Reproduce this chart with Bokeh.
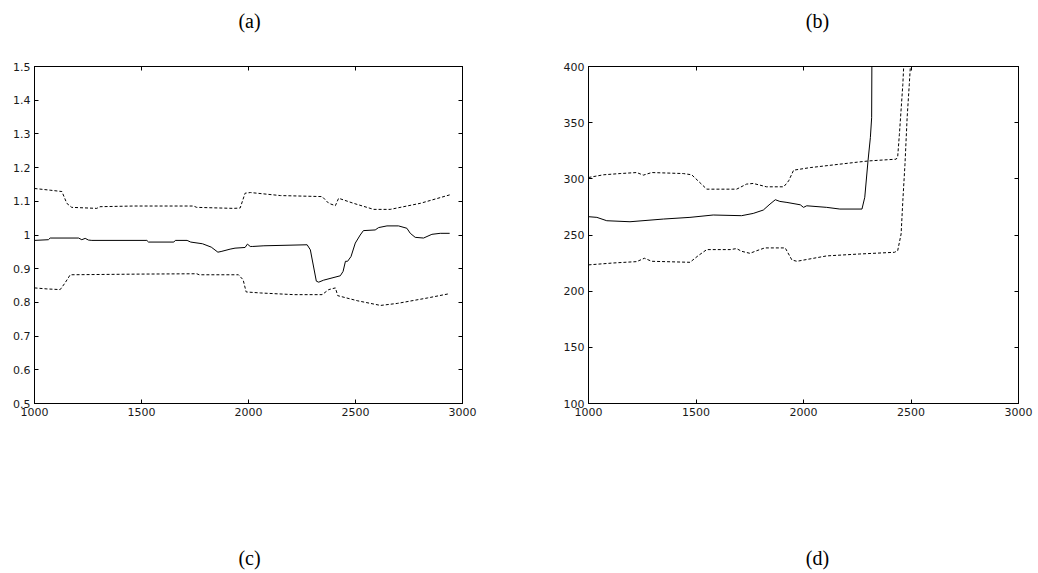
from bokeh.plotting import figure
from bokeh.layouts import row, column
from bokeh.models import LinearAxis, FixedTicker, CustomJSTickFormatter
from bokeh.core.properties import value
from bokeh.embed import file_html
from bokeh.resources import INLINE

# ---- panel (a) data ----
a_x_upper = [1000, 1073, 1128, 1151, 1174, 1291, 1306, 1462, 1743, 1758, 1930, 1961, 1984, 2009,
             2149, 2344, 2375, 2406, 2421, 2491, 2585, 2662, 2803, 2940]
a_upper = [1.138, 1.133, 1.129, 1.094, 1.082, 1.079, 1.084, 1.086, 1.086, 1.082, 1.079, 1.080, 1.124, 1.126,
           1.117, 1.114, 1.094, 1.087, 1.109, 1.094, 1.076, 1.076, 1.094, 1.119]

a_x_mid = [1000, 1065, 1073, 1206, 1221, 1237, 1252, 1268, 1525, 1533, 1651, 1658, 1713, 1730,
           1785, 1826, 1857, 1872, 1914, 1937, 1984, 1995, 2008, 2020, 2072, 2274, 2289, 2317,
           2328, 2351, 2429, 2442, 2453, 2463, 2479, 2499, 2522, 2537, 2592, 2608, 2647, 2701,
           2740, 2756, 2779, 2818, 2857, 2896, 2940]
a_mid = [0.984, 0.986, 0.991, 0.991, 0.986, 0.990, 0.985, 0.984, 0.984, 0.979, 0.979, 0.984, 0.984, 0.979,
         0.974, 0.964, 0.949, 0.951, 0.958, 0.961, 0.963, 0.973, 0.966, 0.966, 0.968, 0.971, 0.956, 0.863,
         0.860, 0.866, 0.879, 0.892, 0.922, 0.922, 0.936, 0.976, 1.000, 1.013, 1.015, 1.022, 1.027, 1.027,
         1.020, 1.005, 0.993, 0.991, 1.002, 1.005, 1.005]

a_x_lower = [1000, 1058, 1120, 1143, 1167, 1494, 1758, 1770, 1953, 1975, 1989, 2056, 2212, 2344,
             2375, 2406, 2417, 2508, 2617, 2695, 2835, 2940]
a_lower = [0.843, 0.840, 0.838, 0.858, 0.882, 0.884, 0.885, 0.882, 0.882, 0.867, 0.831, 0.828, 0.823, 0.823,
           0.838, 0.843, 0.820, 0.805, 0.791, 0.797, 0.813, 0.826]

# ---- panel (b) data ----
b_x_upper = [1000, 1070, 1147, 1224, 1255, 1294, 1441, 1480, 1550, 1689, 1735, 1766, 1828, 1908,
             1931, 1954, 2031, 2262, 2308, 2431, 2438, 2446, 2462, 2466]
b_upper = [301.2, 303.6, 304.7, 305.6, 303.3, 305.6, 304.7, 303.6, 290.8, 290.8, 295.3, 295.9, 292.9, 292.9,
           298.2, 307.7, 310.0, 315.1, 316.0, 317.5, 319.5, 339.6, 384.0, 400.0]

b_x_mid = [1000, 1039, 1085, 1193, 1348, 1472, 1580, 1712, 1766, 1813, 1844, 1869, 1890, 1923,
           1985, 2000, 2015, 2108, 2169, 2272, 2285, 2300, 2311, 2317, 2318]
b_mid = [266.3, 265.7, 262.7, 261.8, 264.2, 265.7, 267.8, 267.2, 269.2, 272.2, 277.5, 281.4, 279.9, 279.0,
         276.9, 274.6, 276.0, 274.6, 273.1, 273.1, 283.6, 316.0, 336.7, 354.4, 400.0]

b_x_lower = [1000, 1116, 1224, 1260, 1294, 1472, 1511, 1550, 1659, 1689, 1712, 1751, 1782, 1820,
             1915, 1946, 1969, 2108, 2262, 2423, 2438, 2454, 2462, 2472, 2482, 2492, 2497]
b_lower = [223.4, 225.1, 226.3, 229.3, 226.6, 225.7, 231.7, 237.0, 237.0, 237.9, 235.5, 233.7, 236.0, 238.5,
           238.5, 227.8, 226.6, 231.4, 233.1, 234.6, 236.0, 250.9, 280.5, 313.0, 354.4, 384.0, 400.0]

# ---- ticks ----
x_ticks = [1000, 1500, 2000, 2500, 3000]
x_tick_labels = ["1000", "1500", "2000", "2500", "3000"]
a_y_ticks = [0.5, 0.6, 0.7, 0.8, 0.9, 1.0, 1.1, 1.2, 1.3, 1.4, 1.5]
a_y_tick_labels = ["0.5", "0.6", "0.7", "0.8", "0.9", "1", "1.1", "1.2", "1.3", "1.4", "1.5"]
b_y_ticks = [100, 150, 200, 250, 300, 350, 400]
b_y_tick_labels = ["100", "150", "200", "250", "300", "350", "400"]

top_labels = ["(a)", "(b)"]
bottom_labels = ["(c)", "(d)"]

TICK_FONT = "DejaVu Sans"
LABEL_FONT = "Liberation Serif"


def style_axis(ax, ticks, labels, show_labels=True):
    ax.ticker = FixedTicker(ticks=ticks, minor_ticks=[])
    ax.axis_line_color = "black"
    ax.axis_line_width = 1
    ax.major_tick_line_color = "black"
    ax.major_tick_in = 4
    ax.major_tick_out = 0
    ax.minor_tick_line_color = None
    ax.major_label_text_font = TICK_FONT
    ax.major_label_text_font_size = "11px"
    ax.major_label_text_color = "#1a1a1a"
    ax.major_label_standoff = 4
    if show_labels:
        ax.major_label_overrides = {t: l for t, l in zip(ticks, labels)}
    else:
        ax.formatter = CustomJSTickFormatter(code="return ''")


def make_panel(xr, yr, yticks, ylabels, bl, br, bt, bb, h):
    p = figure(width=519, height=h, x_range=xr, y_range=yr,
               output_backend="svg", toolbar_location=None,
               min_border_left=bl, min_border_right=br,
               min_border_top=bt, min_border_bottom=bb)
    p.xgrid.visible = False
    p.ygrid.visible = False
    p.outline_line_color = "black"
    p.background_fill_color = "white"
    p.border_fill_color = "white"
    style_axis(p.xaxis[0], x_ticks, x_tick_labels)
    style_axis(p.yaxis[0], yticks, ylabels)
    top = LinearAxis()
    style_axis(top, x_ticks, x_tick_labels, show_labels=False)
    p.add_layout(top, "above")
    right = LinearAxis()
    style_axis(right, yticks, ylabels, show_labels=False)
    p.add_layout(right, "right")
    return p


def label_strip(labels, h, ypos):
    # full-width strip; x in page pixels, y in strip pixels from bottom
    s = figure(width=1038, height=h, x_range=(0, 1038), y_range=(0, h),
               output_backend="svg", toolbar_location=None,
               x_axis_type=None, y_axis_type=None,
               min_border=0, min_border_left=0, min_border_right=0,
               min_border_top=0, min_border_bottom=0)
    s.xgrid.visible = False
    s.ygrid.visible = False
    s.outline_line_color = None
    s.background_fill_color = "white"
    s.border_fill_color = "white"
    s.text(x=[249, 817], y=[ypos, ypos], text=labels,
           text_font=value(LABEL_FONT), text_font_size="20px",
           text_align="center", text_baseline="middle", text_color="black")
    return s


PLOT_H = 487
pa = make_panel((1000, 3000), (0.5, 1.5), a_y_ticks, a_y_tick_labels, 34, 57, 26, 123, PLOT_H)
pa.line(a_x_upper, a_upper, line_color="black", line_width=1, line_dash="3 2")
pa.line(a_x_mid, a_mid, line_color="black", line_width=1)
pa.line(a_x_lower, a_lower, line_color="black", line_width=1, line_dash="3 2")

pb = make_panel((1000, 3000), (100, 400), b_y_ticks, b_y_tick_labels, 69, 20, 25, 124, PLOT_H)
pb.line(b_x_upper, b_upper, line_color="black", line_width=1, line_dash="3 2")
pb.line(b_x_mid, b_mid, line_color="black", line_width=1)
pb.line(b_x_lower, b_lower, line_color="black", line_width=1, line_dash="3 2")

top_strip = label_strip(top_labels, 40, 20)
bottom_strip = label_strip(bottom_labels, 46, 16)

layout = column(top_strip, row(pa, pb), bottom_strip)
open("out.html", "w").write(file_html(layout, INLINE))
